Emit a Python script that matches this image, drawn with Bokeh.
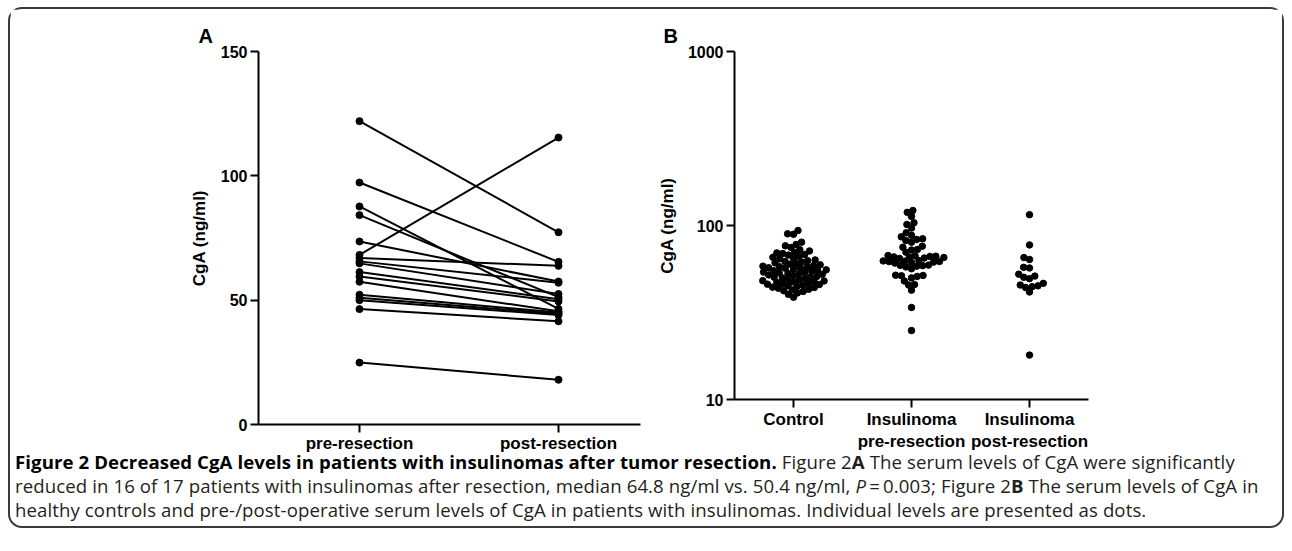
import numpy as np
from bokeh.plotting import figure
from bokeh.models import FixedTicker, Div, Range1d
from bokeh.layouts import row, column
from bokeh.embed import file_html
from bokeh.resources import INLINE

# ---------------- data ----------------
pair_categories = ["pre-resection", "post-resection"]
pre_values = [122.0, 97.3, 87.7, 84.2, 73.6, 68.2, 67.0, 65.6, 64.8, 61.3, 59.5, 57.4, 52.2, 51.0, 50.0, 46.4, 24.9]
post_values = [77.3, 65.4, 46.5, 51.2, 57.5, 115.4, 63.8, 57.0, 52.5, 50.4, 49.5, 45.5, 45.0, 44.5, 44.0, 41.5, 18.0]

group_categories = ["Control", "Insulinoma\npre-resection", "Insulinoma\npost-resection"]
control = [93.6, 89.6, 89.0, 80.2, 77.8, 76.4, 74.8, 72.6, 71.4, 70.2, 69.6, 69.0, 68.2, 67.6, 66.4,
           65.6, 65.0, 64.4, 63.4, 62.8, 62.2, 61.6, 61.0, 60.6, 60.0, 59.4, 58.8, 58.4, 58.0, 57.8,
           57.2, 57.0, 56.8, 56.2, 55.6, 55.4, 55.0, 54.6, 54.0, 53.8, 53.4, 53.0, 52.8, 52.4, 52.0,
           51.6, 51.0, 50.6, 50.4, 50.0, 49.6, 49.0, 48.6, 48.2, 48.0, 47.6, 47.4, 47.0, 46.6, 46.2,
           46.0, 45.8, 45.4, 45.0, 44.6, 44.2, 44.0, 43.6, 43.0, 42.6, 42.2, 41.8, 41.0, 40.2, 38.7]
ins_pre = [122.0, 119.0, 112.7, 103.7, 101.4, 96.6, 90.8, 87.8, 86.1, 83.9, 83.1, 82.0, 80.2, 76.0,
           75.0, 72.8, 72.3, 70.2, 67.2, 66.8, 66.6, 66.4, 66.0, 65.8, 65.5, 65.0, 64.7, 62.8, 62.6,
           62.4, 62.2, 62.0, 61.6, 61.2, 60.8, 59.2, 59.0, 58.8, 58.4, 57.8, 56.4, 51.8, 51.6, 51.4,
           51.0, 50.0, 48.0, 45.8, 45.5, 42.5, 33.8, 24.9]
ins_post = [115.4, 77.3, 65.4, 63.8, 57.5, 57.0, 52.5, 51.2, 50.4, 49.5, 46.5, 45.5, 45.0, 44.5, 44.0, 41.5, 18.0]

yticks_A = [0, 50, 100, 150]
yticks_B = [10, 100, 1000]

FONT = "Liberation Sans"


def style_axes(p):
    for ax in list(p.xaxis) + list(p.yaxis):
        ax.axis_line_width = 2
        ax.axis_line_color = "black"
        ax.major_tick_line_width = 2
        ax.major_tick_line_color = "black"
        ax.major_tick_out = 8
        ax.major_tick_in = 0
        ax.minor_tick_out = 0
        ax.minor_tick_in = 0
        ax.major_label_text_font = FONT
        ax.major_label_text_font_style = "bold"
        ax.major_label_text_color = "black"
        ax.axis_label_text_font = FONT
        ax.axis_label_text_font_style = "bold"
        ax.axis_label_text_font_size = "17px"
        ax.axis_label_text_color = "black"
    p.xgrid.visible = False
    p.ygrid.visible = False
    p.outline_line_color = None
    p.background_fill_color = "white"
    p.border_fill_color = "white"
    p.title.text_font = FONT
    p.title.text_font_style = "bold"
    p.title.text_font_size = "20px"
    p.title.text_color = "black"
    p.title.align = "left"
    p.title.standoff = 10


# ---------------- Panel A ----------------
pA = figure(frame_width=382, frame_height=373, title="A",
            x_range=Range1d(0.4925, 2.412), y_range=Range1d(0, 150),
            output_backend="svg", toolbar_location=None,
            min_border_left=248, min_border_right=10, min_border_top=41, min_border_bottom=30)
xs = [[1, 2] for _ in pre_values]
ys = [[a, b] for a, b in zip(pre_values, post_values)]
pA.multi_line(xs, ys, line_color="black", line_width=2)
pA.scatter([1] * len(pre_values), pre_values, size=7, color="black")
pA.scatter([2] * len(post_values), post_values, size=7, color="black")
style_axes(pA)
pA.title.offset = -60
pA.xaxis.ticker = FixedTicker(ticks=[1, 2])
pA.xaxis.major_label_overrides = {1: pair_categories[0], 2: pair_categories[1]}
pA.xaxis.major_label_text_font_size = "17px"
pA.xaxis.major_label_standoff = 1
pA.yaxis.ticker = FixedTicker(ticks=yticks_A)
pA.yaxis.major_label_text_font_size = "16px"
pA.yaxis.major_label_standoff = 3
pA.yaxis.axis_label = "CgA (ng/ml)"
pA.yaxis.axis_label_standoff = 9


# ---------------- Panel B ----------------
def beeswarm(values, d, px_per_decade):
    yv = np.log10(np.asarray(values, dtype=float)) * px_per_decade
    order = np.argsort(yv)
    offs = np.zeros(len(yv))
    placed = []
    for i in order:
        y = yv[i]
        forb = []
        for (xj, yj) in placed:
            dy = abs(y - yj)
            if dy < d:
                w = np.sqrt(d * d - dy * dy)
                forb.append((xj - w, xj + w))
        cands = [0.0] + [a for a, b in forb] + [b for a, b in forb]
        cands.sort(key=lambda c: (abs(c), c))
        chosen = 0.0
        for c in cands:
            if all(not (a + 1e-6 < c < b - 1e-6) for a, b in forb):
                chosen = c
                break
        offs[i] = chosen
        placed.append((chosen, y))
    return offs


PX_PER_UNIT = 118.0
PX_PER_DEC = 174.0
pB = figure(frame_width=354, frame_height=348, title="B",
            x_range=Range1d(0.5, 3.5), y_range=Range1d(10, 1000), y_axis_type="log",
            output_backend="svg", toolbar_location=None,
            min_border_left=84, min_border_right=194, min_border_top=42, min_border_bottom=54)
for k, vals in enumerate([control, ins_pre, ins_post]):
    off = beeswarm(vals, 5.9, PX_PER_DEC)
    pB.scatter((k + 1) + off / PX_PER_UNIT, vals, size=6.5, color="black")
style_axes(pB)
pB.title.offset = -71
pB.xaxis.ticker = FixedTicker(ticks=[1, 2, 3])
pB.xaxis.major_label_overrides = {1: group_categories[0], 2: group_categories[1], 3: group_categories[2]}
pB.xaxis.major_label_text_font_size = "17px"
pB.xaxis.major_label_standoff = 2
pB.yaxis.ticker = FixedTicker(ticks=yticks_B)
pB.yaxis.major_label_overrides = {10: "10", 100: "100", 1000: "1000"}
pB.yaxis.major_label_text_font_size = "16px"
pB.yaxis.major_label_standoff = 3
pB.yaxis.axis_label = "CgA (ng/ml)"
pB.yaxis.axis_label_standoff = 8

# ---------------- caption ----------------
caption_html = (
    '<div style="font-family:\'Open Sans\';font-size:18.6px;letter-spacing:0.1px;line-height:24px;'
    'color:#231f20;white-space:nowrap;">'
    '<b style="color:#000">Figure 2 Decreased CgA levels in patients with insulinomas after tumor resection.</b> '
    'Figure 2<b>A</b> The serum levels of CgA were significantly<br>'
    'reduced in 16 of 17 patients with insulinomas after resection, median 64.8 ng/ml vs. 50.4 ng/ml, '
    '<i>P</i>&#8201;=&#8201;0.003; Figure 2<b>B</b> The serum levels of CgA in<br>'
    'healthy controls and pre-/post-operative serum levels of CgA in patients with insulinomas. '
    'Individual levels are presented as dots.</div>'
)
cap = Div(text=caption_html, width=1262, margin=(-4, 0, 4, 5))

layout = column(row(pA, pB), cap, margin=(7, 0, 0, 8),
                styles={"border": "2px solid #3a3a3a", "border-radius": "14px", "background": "white"})

open("out.html", "w").write(file_html(layout, INLINE))
